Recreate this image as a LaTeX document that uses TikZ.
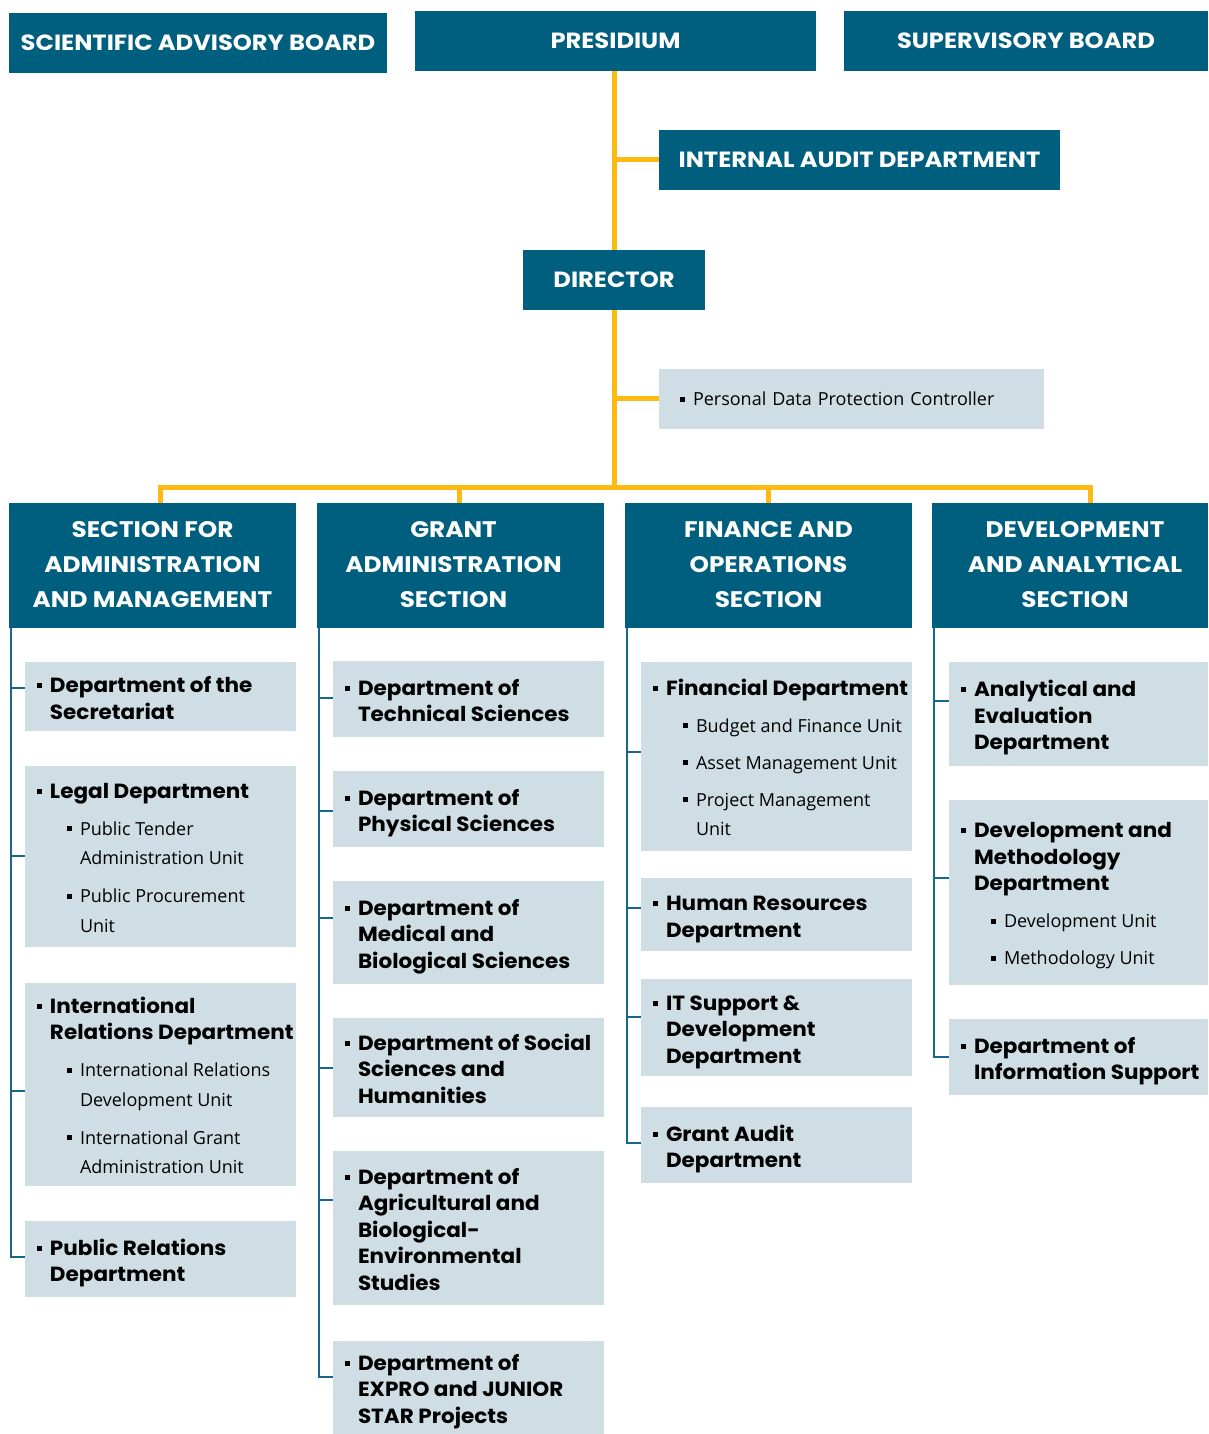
\documentclass[tikz,border=0pt]{standalone}
\usepackage{fontspec}
\setmainfont{Open Sans}
\newfontfamily\hfont{Poppins}[FakeStretch=1.05]
\newfontfamily\hfontw{Poppins}[FakeStretch=1.1]
\usetikzlibrary{backgrounds}
\definecolor{darkteal}{RGB}{0,95,127}
\definecolor{lightbox}{RGB}{207,222,229}
\definecolor{gold}{RGB}{252,186,18}
\definecolor{lineblue}{RGB}{22,104,138}
\newcommand\bul{\rule[0.22em]{5pt}{5pt}}
\newcommand\tfont{\hfont\bfseries\fontsize{20.5}{26.5}\selectfont}
\newcommand\ufont{\fontsize{18}{29.5}\selectfont}
\newcommand\dt[1]{\par{\tfont\noindent\makebox[13pt][l]{\bul}\begin{tabular}[t]{@{}l@{}}#1\end{tabular}\par}}
\newcommand\du[1]{\par\vspace{7.5pt}{\ufont\noindent\hspace*{30pt}\makebox[13pt][l]{\bul}\begin{tabular}[t]{@{}l@{}}#1\end{tabular}\par}}
\newcommand\bx[1]{\begin{minipage}{\boxw}\parskip=0pt\parindent=0pt\hfuzz=100pt\vspace*{8pt}#1\end{minipage}}
\newcommand\ctab[1]{\begin{tabular}{@{}c@{}}#1\end{tabular}}
\newlength\boxw
\begin{document}
\begin{tikzpicture}[x=1pt,y=-1pt,
  top/.style={fill=darkteal,text=white,font=\hfontw\bfseries\fontsize{22}{26}\selectfont,anchor=north west,inner sep=0pt,outer sep=0pt,align=center},
  hdr/.style={fill=darkteal,text=white,font=\hfontw\bfseries\fontsize{22.5}{35}\selectfont,anchor=north west,inner sep=0pt,outer sep=0pt,minimum height=125pt},
  lb/.style={fill=lightbox,text=black,anchor=north west,inner xsep=12pt,inner ysep=0pt,outer sep=0pt},
  yl/.style={draw=gold,line width=5pt,line join=miter},
  bl/.style={draw=lineblue,line width=2.5pt,line join=miter},
]
\useasboundingbox (0,0) rectangle (1208,1434);
% top row
\node[top,minimum width=378pt,minimum height=60pt] (SAB) at (9,13) {SCIENTIFIC ADVISORY BOARD};
\node[top,minimum width=401pt,minimum height=60pt] (P) at (415,11) {PRESIDIUM};
\node[top,minimum width=364pt,minimum height=60pt] (SB) at (844,11) {SUPERVISORY BOARD};
\node[top,minimum width=401pt,minimum height=60pt] (IA) at (659,130) {INTERNAL AUDIT DEPARTMENT};
\node[top,minimum width=182pt,minimum height=60pt] (D) at (523,250) {DIRECTOR};
\node[lb,minimum width=385pt,minimum height=60pt,inner xsep=21pt,align=left,font=\fontsize{18}{22}\selectfont,text width=343pt] (PD) at (659,369) {\bul\hspace{8pt}Personal Data Protection Controller};
% section headers
\node[hdr,minimum width=287pt] (H1) at (9,503) {\ctab{SECTION FOR\\ADMINISTRATION\\AND MANAGEMENT}};
\node[hdr,minimum width=287pt] (H2) at (317,503) {\ctab{GRANT\\ADMINISTRATION\\SECTION}\hspace*{14pt}};
\node[hdr,minimum width=287pt] (H3) at (625,503) {\ctab{FINANCE AND\\OPERATIONS\\SECTION}};
\node[hdr,minimum width=276pt] (H4) at (932,503) {\hspace*{10pt}\ctab{DEVELOPMENT\\AND ANALYTICAL\\SECTION}};
% column 1
\setlength\boxw{247pt}
\node[lb,minimum width=271pt,minimum height=69pt] (A1) at (25,662) {\bx{\dt{Department of the\\Secretariat}}};
\node[lb,minimum width=271pt,minimum height=181pt] (A2) at (25,766) {\bx{\dt{Legal Department}\du{Public Tender\\Administration Unit}\du{Public Procurement\\Unit}}};
\node[lb,minimum width=271pt,minimum height=203pt] (A3) at (25,983) {\bx{\dt{International\\Relations Department}\du{International Relations\\Development Unit}\du{International Grant\\Administration Unit}}};
\node[lb,minimum width=271pt,minimum height=76pt] (A4) at (25,1221) {\bx{\dt{Public Relations\\Department}}};
% column 2
\node[lb,minimum width=271pt,minimum height=76pt] (B1) at (333,661) {\bx{\dt{Department of\\Technical Sciences}}};
\node[lb,minimum width=271pt,minimum height=76pt] (B2) at (333,771) {\bx{\dt{Department of\\Physical Sciences}}};
\node[lb,minimum width=271pt,minimum height=103pt] (B3) at (333,881) {\bx{\dt{Department of\\Medical and\\Biological Sciences}}};
\node[lb,minimum width=271pt,minimum height=99pt] (B4) at (333,1018) {\bx{\dt{Department of Social\\Sciences and\\Humanities}}};
\node[lb,minimum width=271pt,minimum height=154pt] (B5) at (333,1151) {\bx{\dt{Department of\\Agricultural and\\Biological-\\Environmental\\Studies}}};
\node[lb,minimum width=271pt,minimum height=93pt] (B6) at (333,1341) {\bx{\dt{Department of\\EXPRO and JUNIOR\\STAR Projects}}};
% column 3
\node[lb,minimum width=271pt,minimum height=189pt] (C1) at (641,662) {\bx{\dt{Financial Department}\du{Budget and Finance Unit}\du{Asset Management Unit}\du{Project Management\\Unit}}};
\node[lb,minimum width=271pt,minimum height=73pt] (C2) at (641,878) {\bx{\dt{Human Resources\\Department}}};
\node[lb,minimum width=271pt,minimum height=97pt] (C3) at (641,979) {\bx{\dt{IT Support \&\\Development\\Department}}};
\node[lb,minimum width=271pt,minimum height=76pt] (C4) at (641,1107) {\bx{\dt{Grant Audit\\Department}}};
% column 4
\setlength\boxw{235pt}
\node[lb,minimum width=259pt,minimum height=104pt] (E1) at (949,662) {\bx{\dt{Analytical and\\Evaluation\\Department}}};
\node[lb,minimum width=259pt,minimum height=185pt] (E2) at (949,800) {\bx{\dt{Development and\\Methodology\\Department}\du{Development Unit}\du{Methodology Unit}}};
\node[lb,minimum width=259pt,minimum height=76pt] (E3) at (949,1019) {\bx{\dt{Department of\\Information Support}}};
% connector coordinates
\coordinate (ptop) at (614,71);
\coordinate (ia) at (614,160);
\coordinate (pd) at (614,398);
\coordinate (bus) at (614,487);
\coordinate (b1) at (160,487);
\coordinate (b2) at (459,487);
\coordinate (b3) at (768,487);
\coordinate (b4) at (1090,487);
\coordinate (a0) at (11,628);
\coordinate (a1) at (11,688);
\coordinate (a2) at (11,856);
\coordinate (a3) at (11,1091);
\coordinate (a4) at (11,1257);
\coordinate (c0) at (319,628);
\coordinate (c1) at (319,698);
\coordinate (c2) at (319,811);
\coordinate (c3) at (319,918);
\coordinate (c4) at (319,1068);
\coordinate (c5) at (319,1200);
\coordinate (c6) at (319,1377);
\coordinate (f0) at (627,628);
\coordinate (f1) at (627,752);
\coordinate (f2) at (627,908);
\coordinate (f3) at (627,1017);
\coordinate (f4) at (627,1143);
\coordinate (g0) at (934,628);
\coordinate (g1) at (934,701);
\coordinate (g2) at (934,878);
\coordinate (g3) at (934,1057);
\begin{scope}[on background layer]
\draw[yl] (ptop) -- (bus);
\draw[yl] (ia) -- (IA.west |- ia);
\draw[yl] (pd) -- (PD.west |- pd);
\draw[yl] (b1 |- H1.north) -- (b1) -- (b4) -- (b4 |- H4.north);
\draw[yl] (b2) -- (b2 |- H2.north);
\draw[yl] (b3) -- (b3 |- H3.north);
\draw[bl] (a0) -- (a4) -- (a4 -| A4.west);
\draw[bl] (a1) -- (a1 -| A1.west);
\draw[bl] (a2) -- (a2 -| A2.west);
\draw[bl] (a3) -- (a3 -| A3.west);
\draw[bl] (c0) -- (c6) -- (c6 -| B6.west);
\draw[bl] (c1) -- (c1 -| B1.west);
\draw[bl] (c2) -- (c2 -| B2.west);
\draw[bl] (c3) -- (c3 -| B3.west);
\draw[bl] (c4) -- (c4 -| B4.west);
\draw[bl] (c5) -- (c5 -| B5.west);
\draw[bl] (f0) -- (f4) -- (f4 -| C4.west);
\draw[bl] (f1) -- (f1 -| C1.west);
\draw[bl] (f2) -- (f2 -| C2.west);
\draw[bl] (f3) -- (f3 -| C3.west);
\draw[bl] (g0) -- (g3) -- (g3 -| E3.west);
\draw[bl] (g1) -- (g1 -| E1.west);
\draw[bl] (g2) -- (g2 -| E2.west);
\end{scope}
\end{tikzpicture}
\end{document}
